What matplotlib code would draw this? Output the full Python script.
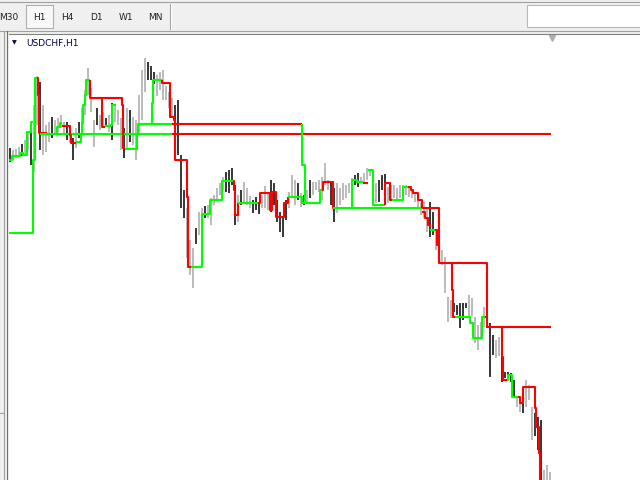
import matplotlib
matplotlib.use("Agg")
import matplotlib.pyplot as plt
import matplotlib.patches as mpatches

# ---- data: USDCHF H1 bars (price in pips, 9767 = 0.9767) ----
bar_high = [
    9852, 9850, 9851, 9853, 9856, 9860, 9868, 9872, 9895, 9924,
    9918, 9895, 9875, 9878, 9883, 9880, 9882, 9885, 9878, 9878,
    9875, 9862, 9872, 9878, 9892, 9910, 9932, 9912, 9880, 9892,
    9885, 9888, 9882, 9885, 9897, 9895, 9890, 9882, 9872, 9892,
    9890, 9883, 9880, 9905, 9930, 9942, 9938, 9934, 9928, 9925,
    9928, 9930, 9914, 9908, 9902, 9895, 9900, 9845, 9810, 9792,
    9760, 9752, 9772, 9788, 9792, 9794, 9795, 9802, 9805, 9812,
    9817, 9823, 9828, 9830, 9832, 9815, 9805, 9810, 9818, 9812,
    9804, 9800, 9803, 9797, 9805, 9814, 9808, 9820, 9817, 9800,
    9788, 9783, 9800, 9808, 9825, 9820, 9817, 9807, 9805, 9810,
    9820, 9818, 9818, 9820, 9823, 9837, 9820, 9818, 9812, 9817,
    9812, 9817, 9815, 9817, 9822, 9825, 9827, 9823, 9827, 9832,
    9830, 9828, 9817, 9820, 9825, 9826, 9813, 9815, 9815, 9812,
    9815, 9815, 9815, 9813, 9810, 9808, 9807, 9797, 9798, 9793,
    9798, 9788, 9770, 9770, 9750, 9743, 9703, 9700, 9697, 9695,
    9697, 9697, 9697, 9705, 9702, 9683, 9675, 9678, 9693, 9687,
    9677, 9665, 9660, 9663, 9643, 9628, 9628, 9627, 9620, 9603,
    9603, 9605, 9620, 9615, 9593, 9587, 9583, 9580, 9530, 9535,
    9528,
]
bar_low = [
    9838, 9840, 9842, 9844, 9844, 9846, 9850, 9835, 9828, 9875,
    9850, 9845, 9848, 9858, 9862, 9865, 9868, 9872, 9865, 9860,
    9857, 9840, 9852, 9862, 9872, 9885, 9905, 9888, 9853, 9875,
    9870, 9872, 9873, 9868, 9860, 9878, 9875, 9850, 9842, 9852,
    9858, 9855, 9840, 9865, 9880, 9908, 9920, 9920, 9916, 9904,
    9910, 9900, 9900, 9892, 9882, 9875, 9845, 9792, 9782, 9742,
    9725, 9712, 9756, 9765, 9778, 9782, 9782, 9775, 9795, 9800,
    9805, 9810, 9808, 9807, 9815, 9775, 9778, 9795, 9798, 9795,
    9792, 9787, 9790, 9786, 9792, 9792, 9790, 9788, 9795, 9778,
    9768, 9763, 9780, 9792, 9803, 9795, 9800, 9793, 9795, 9797,
    9802, 9805, 9810, 9808, 9800, 9815, 9810, 9795, 9778, 9787,
    9795, 9800, 9802, 9807, 9812, 9815, 9813, 9817, 9817, 9820,
    9824, 9810, 9797, 9798, 9810, 9808, 9797, 9800, 9802, 9800,
    9802, 9802, 9805, 9803, 9802, 9798, 9792, 9785, 9782, 9768,
    9763, 9765, 9750, 9738, 9735, 9707, 9678, 9682, 9688, 9685,
    9672, 9680, 9692, 9682, 9684, 9657, 9650, 9660, 9673, 9672,
    9623, 9645, 9642, 9644, 9618, 9622, 9620, 9618, 9603, 9593,
    9588, 9587, 9593, 9600, 9560, 9564, 9550, 9515, 9515, 9515,
    9515,
]
# u = up bar (grey), d = down bar (black), ten bars per chunk
bar_dir = list(
    "duuuduuduu" "duuuduuuud" "ududuuuuud" "uududuuudu" "duuuuudddu"
    "uuuuuddddu" "uuduuduuuu" "uudddduduu" "uddduuuddd" "ddduuududu"
    "duuuuuuddu" "uuuuudduuu" "uuuddduuuu" "uuuuuuuuuu" "dduduuuudd"
    "ddduuuuuud" "dduudddddu" "uduuuddduu" "u"
)

# indicator step lines: (colour, [(bar, level), ...]) drawn as steps-post
GREEN, RED = "#00ff00", "#ff0000"
line_runs = [
    (GREEN, [(-0.3, 9840), (0.7, 9844), (3.3, 9847), (4.3, 9845), (5.7, 9868), (7.0, 9878), (7.7, 9878)]),
    (GREEN, [(-0.3, 9767), (7.7, 9840), (8.3, 9922), (9.0, 9922)]),
    (RED, [(9.0, 9922), (9.3, 9905), (9.7, 9867), (12.3, 9867)]),
    (GREEN, [(10.0, 9866), (54.0, 9866)]),
    (RED, [(54.0, 9866), (180.3, 9866)]),
    (GREEN, [(12.3, 9866), (15.7, 9873), (16.7, 9877), (17.3, 9877)]),
    (RED, [(17.3, 9874), (20.0, 9865), (20.3, 9857), (22.0, 9857)]),
    (GREEN, [(22.0, 9858), (23.7, 9866), (24.0, 9877), (24.3, 9895), (25.0, 9905), (25.3, 9920), (26.7, 9920)]),
    (RED, [(26.7, 9920), (26.7, 9902), (37.3, 9895), (37.7, 9852), (38.3, 9852)]),
    (RED, [(30.0, 9902), (30.7, 9873), (31.7, 9873)]),
    (GREEN, [(31.7, 9874), (33.7, 9875), (34.0, 9895), (35.3, 9895)]),
    (GREEN, [(38.3, 9851), (42.3, 9866), (42.7, 9876), (47.3, 9897), (47.7, 9920), (50.7, 9920)]),
    (GREEN, [(42.7, 9876), (54.0, 9876)]),
    (RED, [(54.0, 9876), (97.3, 9876)]),
    (RED, [(50.7, 9920), (50.7, 9917), (53.3, 9883), (54.7, 9880), (55.0, 9840), (59.0, 9803), (59.3, 9733), (60.3, 9733)]),
    (GREEN, [(60.3, 9733), (64.0, 9786), (66.7, 9800), (70.7, 9819), (74.3, 9819)]),
    (RED, [(74.3, 9819), (74.7, 9810), (75.0, 9785), (76.0, 9797)]),
    (GREEN, [(76.0, 9797), (82.7, 9797)]),
    (RED, [(82.7, 9797), (83.3, 9807), (86.7, 9790), (87.3, 9808), (88.7, 9783), (91.3, 9797), (92.7, 9803)]),
    (GREEN, [(92.7, 9803), (97.3, 9797), (103.3, 9810), (104.0, 9810)]),
    (GREEN, [(97.3, 9876), (97.3, 9835), (98.3, 9797), (98.5, 9797)]),
    (RED, [(104.0, 9810), (104.3, 9818), (107.7, 9792), (108.0, 9792)]),
    (GREEN, [(107.7, 9792), (137.3, 9792)]),
    (RED, [(137.3, 9792), (143.0, 9737), (159.0, 9673), (180.3, 9673)]),
    (GREEN, [(114.0, 9792), (114.0, 9820), (115.7, 9818), (117.7, 9818)]),
    (RED, [(117.7, 9817), (119.3, 9817)]),
    (GREEN, [(119.3, 9830), (121.0, 9795), (125.0, 9795)]),
    (RED, [(125.0, 9795), (125.0, 9817), (126.7, 9800), (127.3, 9800)]),
    (GREEN, [(127.3, 9800), (131.0, 9813), (132.7, 9813)]),
    (RED, [(132.7, 9813), (133.7, 9810), (134.3, 9807), (136.0, 9800), (137.3, 9792)]),
    (RED, [(137.3, 9788), (138.3, 9782), (139.3, 9775), (140.0, 9773)]),
    (GREEN, [(140.0, 9770), (141.7, 9770)]),
    (RED, [(141.7, 9770), (142.3, 9755), (143.0, 9737)]),
    (RED, [(147.3, 9737), (147.3, 9710), (147.7, 9683), (148.3, 9683)]),
    (GREEN, [(148.3, 9683), (153.3, 9677), (154.3, 9662), (157.3, 9683), (158.3, 9683)]),
    (RED, [(158.3, 9683), (159.0, 9683)]),
    (RED, [(164.0, 9673), (164.0, 9643), (164.3, 9620), (165.7, 9620)]),
    (GREEN, [(165.7, 9620), (166.0, 9625), (167.3, 9603), (169.3, 9603)]),
    (RED, [(169.3, 9603), (170.0, 9597), (171.0, 9613), (175.0, 9592), (175.3, 9573), (176.3, 9547), (176.7, 9515)]),
]

timeframes = ["M30", "H1", "H4", "D1", "W1", "MN"]
symbol_title = "USDCHF,H1"

# ---- figure ----
fig = plt.figure(figsize=(6.4, 4.8), dpi=100, facecolor="#f0f0f0")

ui = fig.add_axes([0, 0, 1, 1])
ui.set_xlim(0, 640)
ui.set_ylim(480, 0)
ui.axis("off")

# toolbar
ui.plot([0, 640], [1.5, 1.5], color="#a0a0a0", lw=0.8)
ui.add_patch(mpatches.Rectangle((26, 5), 27, 23, facecolor="#f8f8f8", edgecolor="#b0b0b0", lw=0.8))
tab_x = [9, 39, 67, 96, 126, 155]
for tx, name in zip(tab_x, timeframes):
    ui.text(tx, 17, name, fontsize=6.5, color="#202020", ha="center", va="center", family="DejaVu Sans")
ui.plot([169.5, 169.5], [4, 29], color="#a0a0a0", lw=0.8)
ui.plot([171, 171], [4, 29], color="#ffffff", lw=0.8)
ui.add_patch(mpatches.Rectangle((527, 5), 115, 22, facecolor="white", edgecolor="#b8b8b8", lw=0.8))
ui.plot([0, 640], [31, 31], color="#a0a0a0", lw=0.8)
ui.plot([4, 4], [31, 480], color="#a0a0a0", lw=0.8)
ui.plot([7, 7], [31, 480], color="#707070", lw=0.8)
ui.plot([0, 3], [413, 413], color="#a0a0a0", lw=0.8)

# chart
ax = fig.add_axes([9 / 640, 0, 631 / 640, 446 / 480])
ax.set_facecolor("white")
ax.set_xlim(-0.33, 210)
ax.set_ylim(9520, 9966)
ax.set_xticks([])
ax.set_yticks([])
for s in ax.spines.values():
    s.set_visible(False)
ax.spines["top"].set_visible(True)
ax.spines["top"].set_color("#808080")
ax.spines["top"].set_linewidth(0.8)

t = list(range(len(bar_high)))
cols = ["#a8a8a8" if d == "u" else "#000000" for d in bar_dir]
ax.vlines(t, bar_low, bar_high, colors=cols, lw=1.1)

for color, pts in line_runs:
    xs = [p[0] for p in pts]
    ys = [p[1] for p in pts]
    ax.step(xs, ys, where="post", color=color, lw=1.5, solid_capstyle="butt")

ax.text(0.005, 0.985, "\u25bc", transform=ax.transAxes, fontsize=4.5, color="#000040", va="top", ha="left")
ax.text(0.027, 0.988, symbol_title, transform=ax.transAxes, fontsize=6.5, color="#000050", va="top", ha="left")
ax.plot([180.8], [9962], marker="v", color="#b0b0b0", markersize=5, clip_on=False)

fig.savefig("out.png", dpi=100, facecolor=fig.get_facecolor())
